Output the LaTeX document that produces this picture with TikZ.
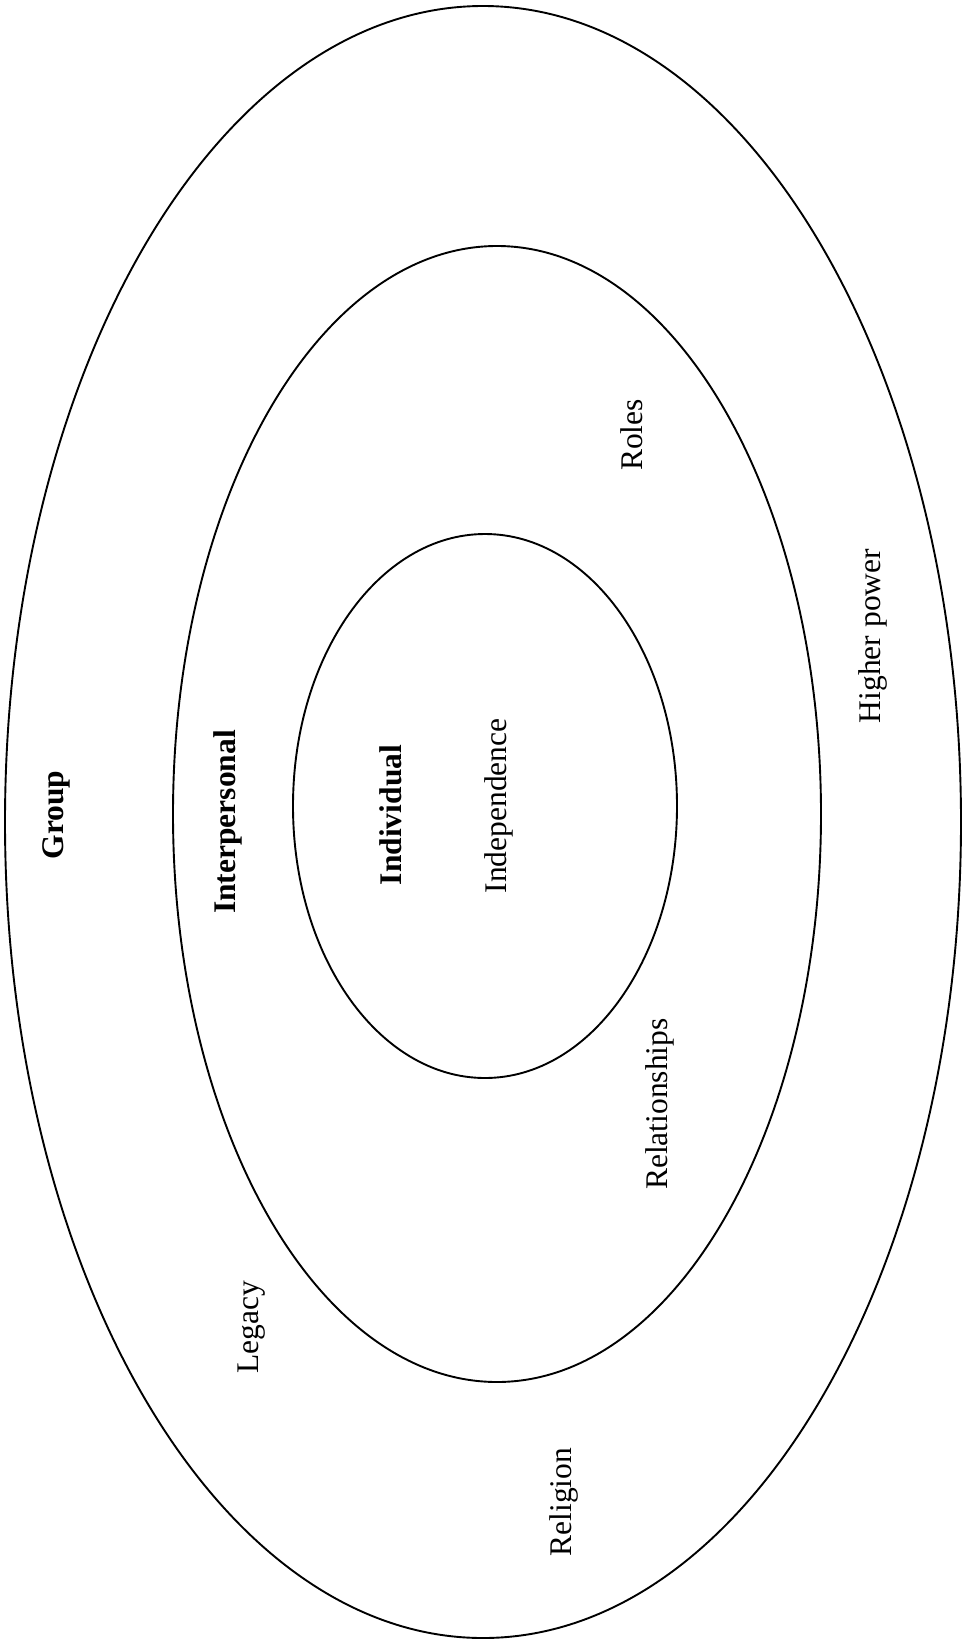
\documentclass[tikz,border=0pt]{standalone}
\usepackage{fontspec}
\setmainfont{Liberation Serif}
\begin{document}
\begin{tikzpicture}[x=1pt,y=-1pt,
  ring/.style={draw=black,line width=1.9pt},
  lbl/.style={rotate=90,inner sep=0pt,font=\fontsize{31.5}{36}\selectfont},
  blbl/.style={lbl,font=\fontsize{31.5}{36}\selectfont\bfseries}]
\useasboundingbox[fill=white] (0,0) rectangle (963,1649);
\draw[ring] (483,822) ellipse [x radius=478pt, y radius=816pt];
\draw[ring] (497,814) ellipse [x radius=324pt, y radius=568pt];
\draw[ring] (485,806) ellipse [x radius=192pt, y radius=272pt];
\node[blbl] (group) at (56,815) {Group};
\node[blbl] (interpersonal) at (228,822) {Interpersonal};
\node[blbl] (individual) at (391,815) {Individual};
\node[lbl] (independence) at (499,806) {Independence};
\node[lbl] (roles) at (632,435) {Roles};
\node[lbl] (higher) at (873,636) {Higher power};
\node[lbl] (relationships) at (660,1104) {Relationships};
\node[lbl] (legacy) at (252,1327) {Legacy};
\node[lbl] (religion) at (564,1502) {Religion};
\end{tikzpicture}
\end{document}
